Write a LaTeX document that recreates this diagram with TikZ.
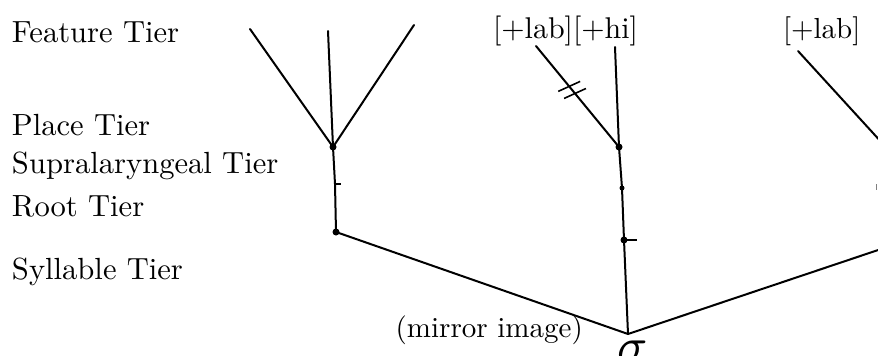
\documentclass[tikz,border=0pt]{standalone}
\usepackage{graphicx}
\usetikzlibrary{calc}
\tikzset{
  tier/.style={anchor=base west, inner sep=0pt, outer sep=0pt},
  feat/.style={anchor=base west, inner sep=0pt, outer sep=0pt},
  dotn/.style={circle, fill=black, inner sep=0pt, minimum size=7pt},
  link/.style={line width=2pt, line cap=round},
  tick/.style={line width=1.6pt},
}
\newcommand{\bigtxt}[2]{\scalebox{#1}{#2}}
\begin{document}
\begin{tikzpicture}[x=1pt, y=-1pt]
\useasboundingbox (0,0) rectangle (878,356);
\clip (0,0) rectangle (878,356);
% tier labels
\node[tier] (tF) at (12,42) {\bigtxt{3.06}{Feature Tier}};
\node[tier] (tP) at (12,135) {\bigtxt{3.06}{Place Tier}};
\node[tier] (tS) at (12,173) {\bigtxt{3.06}{Supralaryngeal Tier}};
\node[tier] (tR) at (12,216) {\bigtxt{3.06}{Root Tier}};
\node[tier] (tY) at (12,279) {\bigtxt{3.06}{Syllable Tier}};
% feature labels
\node[feat] (f2) at (493,38) {\bigtxt{3.0}{[+lab][+hi]}};
\node[feat] (f3) at (783,38) {\bigtxt{2.9}{[+lab]}};
\node[anchor=base east, inner sep=0pt] (mir) at (583,337) {\bigtxt{2.9}{(mirror image)}};
% left column
\coordinate (F1a) at (250,29);
\coordinate (F1b) at (328,31);
\coordinate (F1c) at (414,25);
\node[dotn] (P1) at (333,147) {};
\coordinate (S1) at (335,184);
\node[dotn] (R1) at (336,232) {};
% middle column
\coordinate (L2) at (536,46);
\coordinate (H2) at (615,47);
\node[dotn] (P2) at (619,147) {};
\node[dotn, minimum size=5pt] (S2) at (622,188) {};
\node[dotn] (R2) at (624,240) {};
% syllable
\coordinate (Sig) at (628,334);
\node[anchor=north, inner sep=0pt] (sigma) at (633,341) {\bigtxt{5}{$\sigma$}};
% right column (beyond the edge)
\coordinate (L3) at (798,51);
\coordinate (P3) at (905,168);
\coordinate (R3) at (905,241);
% links
\draw[link] (F1a) -- (P1.center);
\draw[link] (F1b) -- (P1.center);
\draw[link] (F1c) -- (P1.center);
\draw[link] (P1.center) -- (S1) -- (R1.center);
\draw[tick] (S1) -- ++(6,0);
\draw[link] (R1.center) -- (Sig);
\draw[link] (L2) -- (P2.center);
\draw[link] (H2) -- (P2.center);
\draw[link] (P2.center) -- (S2.center) -- (R2.center) -- (Sig);
\draw[tick] (R2.center) -- ++(13,0);
\draw[link] (L3) -- (P3);
\draw[link] (Sig) -- (R3);
\draw[line width=1pt, gray] (876.5,184) -- (876.5,190);
% delinking marks
\coordinate (m1) at ($(L2)!0.40!(P2)$);
\coordinate (m2) at ($(L2)!0.47!(P2)$);
\draw[tick] ($(m1)!12pt!75:(P2)$) -- ($(m1)!12pt!-105:(P2)$);
\draw[tick] ($(m2)!12pt!75:(P2)$) -- ($(m2)!12pt!-105:(P2)$);
\end{tikzpicture}
\end{document}
